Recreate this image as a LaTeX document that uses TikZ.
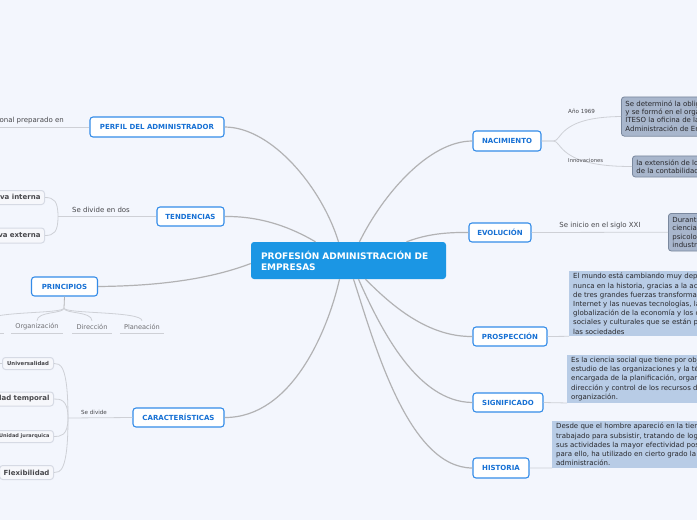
\documentclass[tikz,border=0pt]{standalone}
\usepackage{fontspec}
\setmainfont{DejaVu Sans}
\usepackage{tikz}
\usetikzlibrary{positioning, calc}
\definecolor{pagebg}{RGB}{243,246,253}
\definecolor{rootblue}{RGB}{27,150,228}
\definecolor{topicblue}{RGB}{52,140,232}
\definecolor{topictext}{RGB}{22,112,212}
\definecolor{edgegray}{RGB}{178,178,180}
\definecolor{twiggray}{RGB}{206,208,214}
\definecolor{notelight}{RGB}{184,204,230}
\definecolor{notedark}{RGB}{168,182,204}
\definecolor{darkborder}{RGB}{122,136,158}
\definecolor{notetext}{RGB}{40,40,44}
\definecolor{labelgray}{RGB}{72,72,76}
\definecolor{leafgray}{RGB}{110,110,114}
\definecolor{chipborder}{RGB}{214,218,228}
\definecolor{chipfill}{RGB}{246,247,251}
\tikzset{
  root/.style={
    rectangle, rounded corners=3pt, fill=rootblue, text=white,
    minimum width=195pt, minimum height=37pt, text width=175pt,
    inner xsep=10pt, align=left, font=\fontsize{9}{11}\selectfont\bfseries
  },
  topic/.style={
    rectangle, rounded corners=3pt, draw=topicblue, line width=1.1pt,
    fill=white, text=topictext, inner sep=0pt,
    font=\fontsize{7}{8}\selectfont\bfseries
  },
  note/.style={
    rectangle, fill=notelight, text=notetext, align=left, anchor=north west,
    inner xsep=4pt, inner ysep=2pt, font=\fontsize{7}{9.2}\selectfont
  },
  darknote/.style={
    note, rounded corners=3pt, draw=darkborder, fill=notedark,
    line width=0.8pt, inner ysep=3.5pt, font=\fontsize{7}{8.4}\selectfont
  },
  chip/.style={
    rectangle, rounded corners=3pt, draw=chipborder, fill=chipfill,
    line width=1pt, text=notetext!85!white, anchor=east,
    inner xsep=4pt, inner ysep=0pt, font=\fontsize{7}{8}\selectfont\bfseries
  },
  leaf/.style={
    text=leafgray, inner xsep=4pt, inner ysep=2pt, minimum height=12pt,
    font=\fontsize{6.6}{8}\selectfont
  },
  lbl/.style={text=labelgray, inner sep=1pt, font=\fontsize{7}{8}\selectfont},
  trunk/.style={draw=edgegray, line width=1.2pt},
  twig/.style={draw=twiggray, line width=0.8pt}
}
\begin{document}
\begin{tikzpicture}[x=1pt, y=-1pt]
  \useasboundingbox (0,0) rectangle (697,520);
  \clip (0,0) rectangle (697,520);
  \fill[pagebg] (0,0) rectangle (697,520);

  % Central topic
  \node[root] (main) at (348.5,260.5)
    {PROFESIÓN ADMINISTRACIÓN DE\\EMPRESAS};

  % Main topics, left
  \node[topic, minimum width=134pt, minimum height=20pt] (perfil) at (157,127) {PERFIL DEL ADMINISTRADOR};
  \node[topic, minimum width=67pt, minimum height=19pt] (tend) at (190.5,216.5) {TENDENCIAS};
  \node[topic, minimum width=66pt, minimum height=19pt] (princ) at (64.5,286.5) {PRINCIPIOS};
  \node[topic, minimum width=91pt, minimum height=19pt] (carac) at (178.5,417.5) {CARACTERÍSTICAS};

  % Main topics, right
  \node[topic, minimum width=68pt, minimum height=20pt] (nac) at (507,141) {NACIMIENTO};
  \node[topic, minimum width=62pt, minimum height=19pt] (evol) at (500,232.5) {EVOLUCIÓN};
  \node[topic, minimum width=74pt, minimum height=19pt] (prosp) at (510,336.5) {PROSPECCIÓN};
  \node[topic, minimum width=70pt, minimum height=19pt] (signif) at (508,402.5) {SIGNIFICADO};
  \node[topic, minimum width=56pt, minimum height=20pt] (hist) at (501,468) {HISTORIA};

  % Branches from the centre
  \draw[trunk] (perfil.east) .. controls (272,127) and (322,188) .. ([xshift=-10pt]main.north);
  \draw[trunk] (tend.east) .. controls (262,216) and (292,228) .. ([xshift=-33pt]main.north);
  \draw[trunk] (princ.east) .. controls (150,286) and (205,281) .. ([yshift=-3pt]main.west);
  \draw[trunk] (carac.east) .. controls (292,418) and (328,330) .. ([xshift=-9pt]main.south);
  \draw[trunk] (nac.west) .. controls (428,141) and (382,196) .. ([xshift=11pt]main.north);
  \draw[trunk] (evol.west) .. controls (440,232) and (422,236) .. ([xshift=58pt]main.north);
  \draw[trunk] (prosp.west) .. controls (428,337) and (392,306) .. ([xshift=17pt]main.south);
  \draw[trunk] (signif.west) .. controls (418,402) and (382,332) .. ([xshift=10pt]main.south);
  \draw[trunk] (hist.west) .. controls (408,468) and (374,342) .. ([xshift=5pt]main.south);

  % Perfil
  \coordinate (perfilend) at (-40,127);
  \draw[twig] (perfil.west) -- (perfilend);
  \node[lbl, anchor=south east] (perfillbl) at (65,125) {Profesional preparado en};

  % Tendencias
  \coordinate (tendj) at (58,216.5);
  \node[chip, minimum height=14pt] (tint) at (45,197.5) {Perspectiva interna};
  \node[chip, minimum height=15pt] (text) at (45,235.5) {Perspectiva externa};
  \draw[twig] (tend.west) -- (tendj);
  \draw[twig] (tendj) .. controls (58,201) and (54,197.5) .. (tint.east);
  \draw[twig] (tendj) .. controls (58,232) and (54,235.5) .. (text.east);
  \node[lbl, anchor=south] (tendlbl) at (101,214) {Se divide en dos};

  % Principios
  \coordinate (princj) at (64,308);
  \node[leaf] (ctl) at (-12,327) {Control};
  \node[leaf] (org) at (37,327) {Organización};
  \node[leaf] (dir) at (92,327) {Dirección};
  \node[leaf] (pla) at (142,327) {Planeación};
  \draw[twig, edgegray] (princ.south) -- (princj);
  \foreach \n in {ctl,org,dir,pla}{
    \draw[twig] (princj) .. controls (64,314) and (\n.north |- 0,311) .. (\n.north);
    \draw[twig] (\n.south west) -- (\n.south east);
  }

  % Caracteristicas
  \coordinate (caracj) at (68,418);
  \node[chip, minimum height=12pt, minimum width=51pt, font=\fontsize{5.4}{6}\selectfont\bfseries] (univ) at (54,363.5) {Universalidad};
  \node[chip, minimum height=14pt] (utemp) at (54,399) {Unidad temporal};
  \node[chip, minimum height=12pt, font=\fontsize{5}{6}\selectfont\bfseries] (ujer) at (54,436.5) {Unidad jurarquica};
  \node[chip, minimum height=14pt, minimum width=51pt] (flex) at (54,472.5) {Flexibilidad};
  \draw[twig] (carac.west) -- (caracj);
  \foreach \n in {univ,utemp,ujer,flex}
    \draw[twig] (caracj) .. controls (caracj |- \n.east) and ([xshift=6pt]\n.east) .. (\n.east);
  \coordinate (univend) at (-6,363.5);
  \draw[twig] (univ.west) -- (univend);
  \node[lbl, anchor=south, font=\fontsize{5.6}{6}\selectfont] (caraclbl) at (94,416) {Se divide};

  % Nacimiento
  \node[darknote] (nac1) at (621,96.5)
    {Se determinó la obligación de\\y se formó en el organigrama del\\ITESO la oficina de la carrera de\\Administración de Empresas};
  \node[darknote] (nac2) at (632,155.5)
    {la extensión de los conocimientos\\de la contabilidad};
  \draw[twig] (nac.east) -- ++(12,0) .. controls (562,141) and (558,117) .. (nac1.west);
  \draw[twig] (nac.east) -- ++(12,0) .. controls (562,141) and (558,167) .. (nac2.west);
  \node[lbl, anchor=south west, font=\fontsize{5.6}{6}\selectfont] (nac1lbl) at (567,115) {Año 1969};
  \node[lbl, anchor=south west, font=\fontsize{5.3}{6}\selectfont] (nac2lbl) at (567,164) {Innovaciones};

  % Evolucion
  \node[darknote] (evol1) at (668,213)
    {Durante el siglo las\\ciencias sociales como la\\psicología y la sociología\\industrial};
  \draw[twig] (evol.east) -- (evol1.west);
  \node[lbl, anchor=south] (evollbl) at (600,230) {Se inicio en el siglo XXI};

  % Prospeccion
  \node[note] (prosp1) at (569,271)
    {El mundo está cambiando muy deprisa, más que\\nunca en la historia, gracias a la acción\\de tres grandes fuerzas transformadoras:\\Internet y las nuevas tecnologías, la\\globalización de la economía y los cambios\\sociales y culturales que se están produciendo en\\las sociedades};
  \draw[twig] (prosp.east) -- (prosp1.south west);

  % Significado
  \node[note] (signif1) at (567,355)
    {Es la ciencia social que tiene por objeto el\\estudio de las organizaciones y la técnica\\encargada de la planificación, organización,\\dirección y control de los recursos de una\\organización.};
  \draw[twig] (signif.east) -- (signif1.south west);

  % Historia
  \node[note] (hist1) at (552,421)
    {Desde que el hombre apareció en la tierra ha\\trabajado para subsistir, tratando de lograr en\\sus actividades la mayor efectividad posible;\\para ello, ha utilizado en cierto grado la\\administración.};
  \draw[twig] (hist.east) -- (hist1.south west);
\end{tikzpicture}
\end{document}
